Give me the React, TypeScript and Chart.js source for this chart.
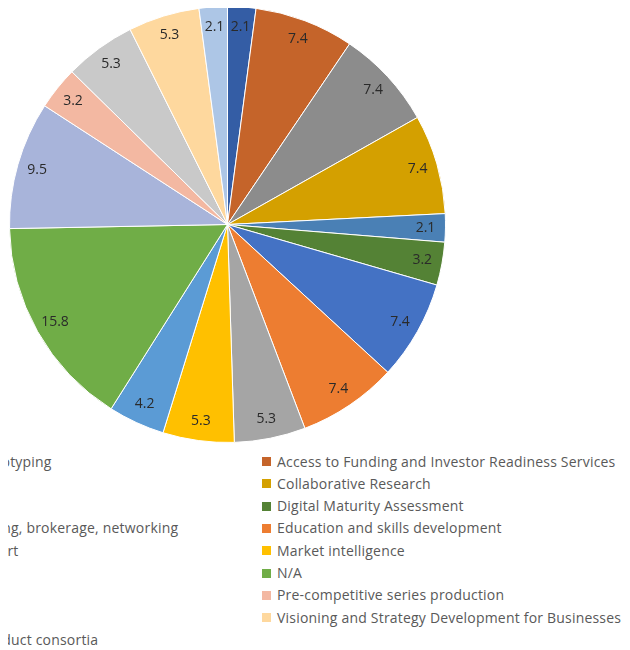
import React, { useEffect, useRef } from "react";
import { Chart, ArcElement, PieController } from "chart.js";

Chart.register(ArcElement, PieController);

const categories: string[] = [
  "Access to Prototyping",
  "Access to Funding and Investor Readiness Services",
  "Branding",
  "Collaborative Research",
  "Consultancy",
  "Digital Maturity Assessment",
  "Partner sourcing, brokerage, networking",
  "Education and skills development",
  "Investor support",
  "Market intelligence",
  "Mentoring",
  "N/A",
  "Other",
  "Pre-competitive series production",
  "Testing",
  "Visioning and Strategy Development for Businesses",
  "Setting up product consortia",
];

const values: number[] = [2.1, 7.4, 7.4, 7.4, 2.1, 3.2, 7.4, 7.4, 5.3, 5.3, 4.2, 15.8, 9.5, 3.2, 5.3, 5.3, 2.1];

const colors: string[] = [
  "#345DA5",
  "#C5642A",
  "#8C8C8C",
  "#D4A000",
  "#4A80B5",
  "#548235",
  "#4472C4",
  "#ED7D31",
  "#A5A5A5",
  "#FFC000",
  "#5B9BD5",
  "#70AD47",
  "#A8B4DA",
  "#F3B8A2",
  "#C9C9C9",
  "#FED89E",
  "#ADC6E6",
];

const FONT = '"Open Sans", "Liberation Sans", sans-serif';

const sliceLabels = {
  id: "sliceLabels",
  afterDatasetsDraw(chart: any) {
    const ctx = chart.ctx;
    const meta = chart.getDatasetMeta(0);
    ctx.save();
    ctx.font = `14px ${FONT}`;
    ctx.fillStyle = "#2a2a2a";
    ctx.textAlign = "center";
    ctx.textBaseline = "middle";
    meta.data.forEach((arc: any, i: number) => {
      const p = arc.getProps(["x", "y", "startAngle", "endAngle", "outerRadius"], true);
      const mid = (p.startAngle + p.endAngle) / 2;
      const r = p.outerRadius - 20;
      ctx.fillText(values[i].toFixed(1), p.x + Math.cos(mid) * r, p.y + Math.sin(mid) * r);
    });
    ctx.restore();
  },
};

export default function App() {
  const ref = useRef<HTMLCanvasElement | null>(null);

  useEffect(() => {
    if (!ref.current) return;
    const chart = new Chart(ref.current, {
      type: "pie",
      data: {
        labels: categories,
        datasets: [
          {
            data: values,
            backgroundColor: colors,
            borderColor: "#ffffff",
            borderWidth: 1,
          },
        ],
      },
      options: {
        responsive: false,
        animation: false,
        layout: { padding: 0 },
        plugins: {
          legend: { display: false },
          tooltip: { enabled: false },
        },
      },
      plugins: [sliceLabels],
    });
    return () => chart.destroy();
  }, []);

  const rowH = 22.3;
  const firstY = 461.5;
  const colW = 370;
  const rightX = 262;

  return (
    <div
      style={{
        position: "relative",
        width: 630,
        height: 650,
        margin: "-8px 0 0 -8px",
        overflow: "hidden",
        background: "#ffffff",
        fontFamily: FONT,
      }}
    >
      <canvas
        ref={ref}
        width={437}
        height={437}
        style={{ position: "absolute", left: 9, top: 6, width: 437, height: 437 }}
      />
      {categories.map((c, i) => {
        const col = i % 2;
        const row = Math.floor(i / 2);
        const cy = firstY + row * rowH;
        const x = rightX - (1 - col) * colW;
        return (
          <div
            key={c}
            style={{
              position: "absolute",
              left: x,
              top: cy - 10,
              height: 20,
              display: "flex",
              alignItems: "center",
              whiteSpace: "nowrap",
              fontSize: 14,
              letterSpacing: "0.2px",
              lineHeight: "20px",
              color: "#595959",
            }}
          >
            <span
              style={{
                display: "inline-block",
                width: 9,
                height: 9,
                background: colors[i],
                marginRight: 6,
              }}
            />
            <span>{c}</span>
          </div>
        );
      })}
    </div>
  );
}
